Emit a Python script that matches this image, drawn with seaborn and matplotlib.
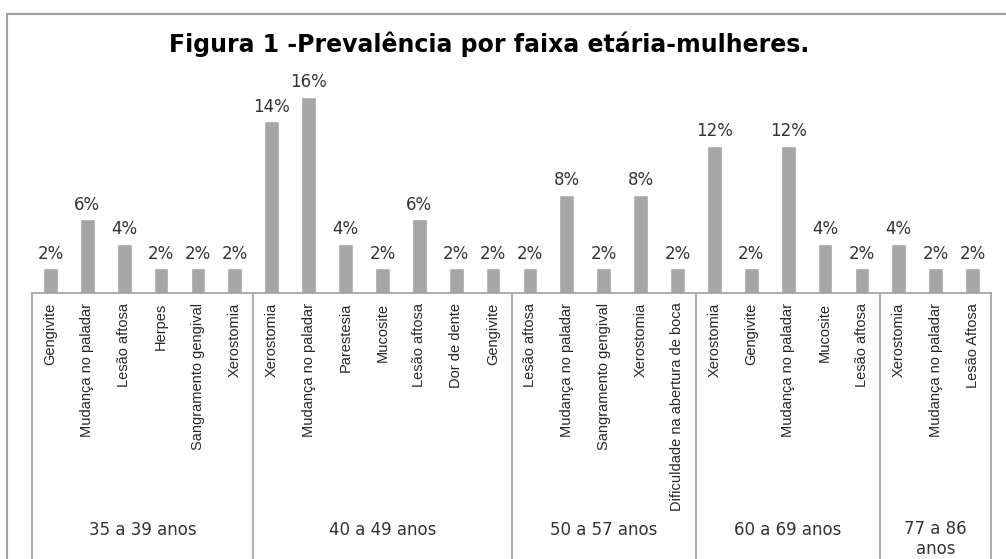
import numpy as np
import pandas as pd
import matplotlib.pyplot as plt
import matplotlib.transforms as mtransforms
from matplotlib.lines import Line2D
import seaborn as sns

#####################################
# dados (% por faixa etaria)
faixas = ['35 a 39 anos', '40 a 49 anos', '50 a 57 anos', '60 a 69 anos', '77 a 86\nanos']
agravos_35 = ['Gengivite', 'Mudança no paladar', 'Lesão aftosa', 'Herpes', 'Sangramento gengival', 'Xerostomia']
valores_35 = [2, 6, 4, 2, 2, 2]
agravos_40 = ['Xerostomia', 'Mudança no paladar', 'Parestesia', 'Mucosite', 'Lesão aftosa', 'Dor de dente', 'Gengivite']
valores_40 = [14, 16, 4, 2, 6, 2, 2]
agravos_50 = ['Lesão aftosa', 'Mudança no paladar', 'Sangramento gengival', 'Xerostomia', 'Dificuldade na abertura de boca']
valores_50 = [2, 8, 2, 8, 2]
agravos_60 = ['Xerostomia', 'Gengivite', 'Mudança no paladar', 'Mucosite', 'Lesão aftosa']
valores_60 = [12, 2, 12, 4, 2]
agravos_77 = ['Xerostomia', 'Mudança no paladar', 'Lesão Aftosa']
valores_77 = [4, 2, 2]

#####################################
def build_df():
    grupos = [(agravos_35, valores_35), (agravos_40, valores_40), (agravos_50, valores_50),
              (agravos_60, valores_60), (agravos_77, valores_77)]
    rows = []
    for g, (nomes, vals) in enumerate(grupos):
        for n, v in zip(nomes, vals):
            rows.append({'faixa': faixas[g], 'agravo': n, 'valor': v})
    df = pd.DataFrame(rows)
    df['pos'] = np.arange(len(df))
    return df

#####################################
def plot(df):
    sns.set_style('white')
    plt.rcParams['font.family'] = ['DejaVu Sans']
    grey = '#a6a6a6'
    line_c = '#a0a0a0'

    fig = plt.figure(figsize=(10.06, 5.59), dpi=100)
    W, H = 1006, 559
    ax = fig.add_axes([32 / W, (H - 293) / H, 959 / W, 233 / H])

    sns.barplot(data=df, x='pos', y='valor', color=grey, width=0.4,
                saturation=1, ax=ax, errorbar=None)
    ax.set_xlim(-0.5, len(df) - 0.5)
    ax.set_ylim(0, 19.02)

    for c in ax.containers:
        ax.bar_label(c, labels=['{}%'.format(int(v)) for v in c.datavalues],
                     padding=4, fontsize=12, color='#333333')

    ax.set_xticks(df['pos'])
    ax.set_xticklabels(df['agravo'], rotation=90, va='top', ha='center',
                       family=['Liberation Sans', 'DejaVu Sans'], fontsize=10.5)
    ax.tick_params(axis='x', length=0, pad=7)
    ax.set_yticks([])
    ax.set_xlabel('')
    ax.set_ylabel('')
    for s in ['top', 'right', 'left']:
        ax.spines[s].set_visible(False)
    ax.spines['bottom'].set_color(line_c)
    ax.spines['bottom'].set_linewidth(1.2)

    # separadores e rotulos de faixa
    trans = mtransforms.blended_transform_factory(ax.transData, ax.transAxes)
    counts = df.groupby('faixa', sort=False).size().values
    edges = np.concatenate([[0], np.cumsum(counts)]) - 0.5
    for e in edges:
        ax.plot([e, e], [0, -1.2], color=line_c, lw=1.2, transform=trans, clip_on=False)
    for i, f in enumerate(faixas):
        mid = (edges[i] + edges[i + 1]) / 2
        yy = -(530 - 293) / 233 if '\n' not in f else -(539 - 293) / 233
        ax.text(mid, yy, f, transform=trans, ha='center', va='center',
                fontsize=12, color='#333333', linespacing=1.1)

    fig.text(489 / W, 1 - 44 / H, 'Figura 1 -Prevalência por faixa etária-mulheres.',
             ha='center', va='center', fontsize=17, fontweight='bold', color='black')

    # moldura do grafico
    fig.add_artist(Line2D([7 / W, 7 / W], [0, 1 - 14 / H], color=line_c, lw=1.5))
    fig.add_artist(Line2D([7 / W, 1], [1 - 14 / H, 1 - 14 / H], color=line_c, lw=1.5))

    fig.savefig('out.png', dpi=100)

#####################################
def main():
    df = build_df()
    plot(df)

if __name__ == "__main__":
    main()
